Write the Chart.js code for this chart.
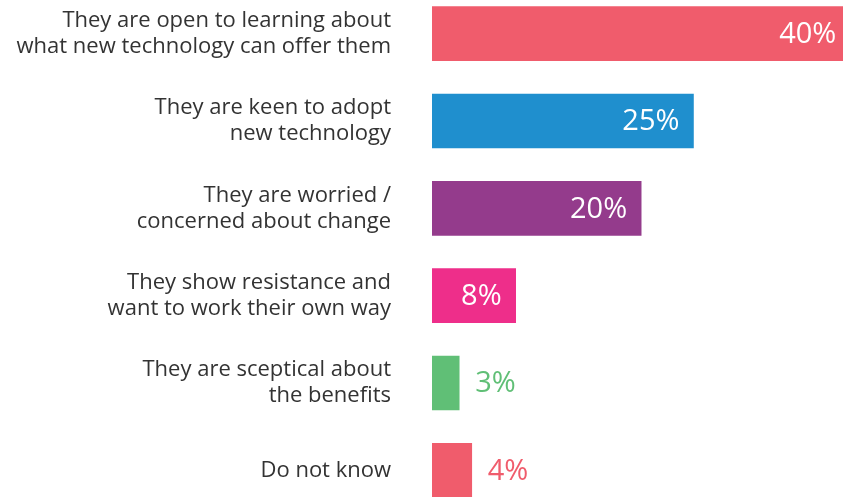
<!DOCTYPE html>
<html>
<head>
<meta charset="utf-8">
<script src="https://cdn.jsdelivr.net/npm/chart.js@4.4.0/dist/chart.umd.min.js"></script>
<style>
  html, body { margin: 0; padding: 0; background: #fff; overflow: hidden; }
  #wrap { position: relative; width: 843px; height: 524px; margin-top: -10px; }
</style>
</head>
<body>
<div id="wrap"><canvas id="myChart"></canvas></div>
<script>
const categories = [
    ['They are open to learning about', 'what new technology can offer them'],
    ['They are keen to adopt', 'new technology'],
    ['They are worried /', 'concerned about change'],
    ['They show resistance and', 'want to work their own way'],
    ['They are sceptical about', 'the benefits'],
    ['Do not know']
]
const values = [40, 25, 20, 8, 2.6, 3.8]
const valueLabels = ['40%', '25%', '20%', '8%', '3%', '4%']
const colors = ['#f05c6c', '#1f8fce', '#943b8c', '#ee2e8a', '#60bf76', '#f05c6c']
// labels for the small bars sit outside the bar
const outside = [false, false, false, false, true, true]

const valuePlugin = {
    id: 'valuePlugin',
    afterDatasetsDraw(chart) {
        const ctx = chart.ctx
        const meta = chart.getDatasetMeta(0)
        ctx.save()
        ctx.font = '29px "Open Sans"'
        ctx.textBaseline = 'middle'
        meta.data.forEach((bar, i) => {
            if (outside[i]) {
                ctx.fillStyle = colors[i]
                ctx.textAlign = 'left'
                ctx.fillText(valueLabels[i], bar.x + 16, bar.y + 1)
            } else {
                ctx.fillStyle = '#fff'
                ctx.textAlign = 'right'
                ctx.fillText(valueLabels[i], bar.x - 14, bar.y + 1)
            }
        })
        ctx.restore()
    }
}

const data = {
    labels: categories,
    datasets: [{
        data: values,
        backgroundColor: colors,
        borderWidth: 0,
        barThickness: 54,
    }]
}

const config = {
    type: 'bar',
    data: data,
    plugins: [valuePlugin],
    options: {
        indexAxis: 'y',
        responsive: true,
        maintainAspectRatio: false,
        animation: false,
        layout: { padding: 0 },
        plugins: {
            legend: { display: false },
            tooltip: { enabled: false }
        },
        scales: {
            x: {
                display: false,
                min: 0,
                max: 39.3
            },
            y: {
                grid: { display: false },
                border: { display: false },
                ticks: {
                    color: '#333',
                    padding: 33,
                    font: { family: '"Open Sans"', size: 22, lineHeight: 1.18 }
                },
                afterFit(scale) {
                    scale.width = 432
                    scale.paddingTop = 0
                    scale.paddingBottom = 0
                }
            }
        }
    },
}

const myChart = new Chart(
    document.getElementById('myChart'),
    config
)
</script>
</body>
</html>
